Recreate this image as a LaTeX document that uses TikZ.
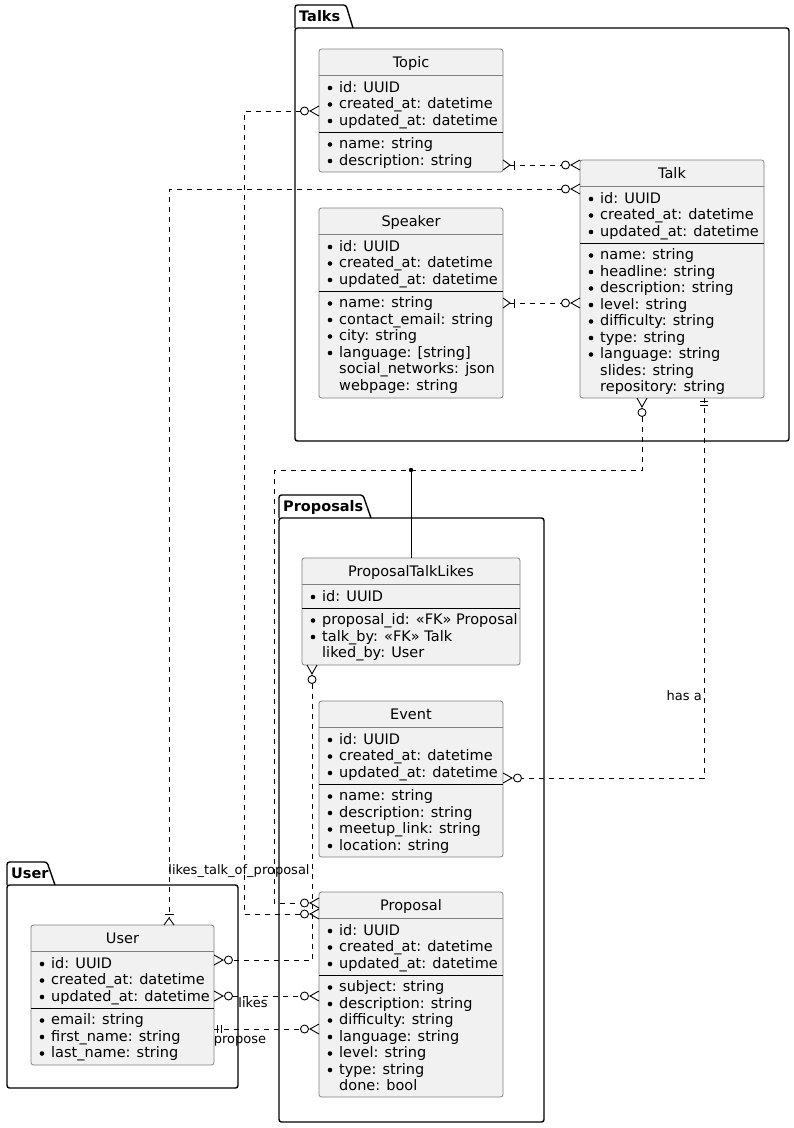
\documentclass[tikz,border=0pt]{standalone}
\usepackage{fontspec}
\setmainfont{DejaVu Sans}
\definecolor{boxfill}{HTML}{F1F1F1}
\definecolor{boxline}{HTML}{808080}
\newcount\fc
\newcommand\fieldB[3]{\global\advance\fc by 1\relax
  \fill (#1+11,#2+1) circle (2.3pt);
  \node[attr] (f\the\fc) at (#1+20,#2+5) {#3};}
\newcommand\fieldP[3]{\global\advance\fc by 1\relax
  \node[attr] (f\the\fc) at (#1+20,#2+5) {#3};}
\newcommand\hsep[3]{\draw[#3] (#1.west |- 0,#2) -- (#1.east |- 0,#2);}
\begin{document}
\begin{tikzpicture}[x=1pt,y=-1pt,
  ent/.style={draw=boxline, fill=boxfill, line width=0.8pt, rounded corners=2.5pt, inner sep=0pt, outer sep=0pt, anchor=north west},
  attr/.style={anchor=base west, inner sep=0pt, font=\fontsize{14.5}{17}\selectfont},
  ttl/.style={anchor=base, inner sep=0pt, font=\fontsize{14.5}{17}\selectfont},
  lbl/.style={inner sep=0pt, font=\fontsize{13}{15}\selectfont},
  pkg/.style={draw=black, line width=1.4pt, rounded corners=2.5pt},
  pkgbody/.style={pkg, inner sep=0pt, outer sep=0pt, anchor=north west},
  pkgttl/.style={anchor=base west, inner sep=0pt, font=\bfseries\fontsize{14.5}{17}\selectfont},
  hdrsep/.style={draw=boxline, line width=0.8pt},
  secsep/.style={draw=black, line width=1pt},
  conn/.style={draw=black, line width=0.9pt, dash pattern=on 5pt off 5pt},
  mk/.style={draw=black, line width=0.9pt, solid},
  zm/.pic={\draw[mk] (0,5) -- (9,0) -- (0,-5); \draw[mk] (14.5,0) circle (4pt);},
  om/.pic={\draw[mk] (0,5) -- (7,0) -- (0,-5); \draw[mk] (11,4.5) -- (11,-4.5);},
  oo/.pic={\draw[mk] (3.5,4) -- (3.5,-4) (7,4) -- (7,-4);},
]
\useasboundingbox (0,0) rectangle (794,1128);
\fill[white] (0,0) rectangle (794,1128);

% ---------- packages ----------
\node[pkgbody, minimum width=494pt, minimum height=413pt] (talkspkg) at (295,28) {};
\draw[pkg] (295,28) -- (295,5) -- (346,5) -- (353,28);
\node[pkgttl] (talkslbl) at (299,21) {Talks};

\node[pkgbody, minimum width=265pt, minimum height=604pt] (proppkg) at (279,518) {};
\draw[pkg] (279,518) -- (279,495) -- (363,495) -- (371,518);
\node[pkgttl] (proplbl) at (283,511) {Proposals};

\node[pkgbody, minimum width=231pt, minimum height=203pt] (userpkg) at (7,885) {};
\draw[pkg] (7,885) -- (7,862) -- (47,862) -- (55,885);
\node[pkgttl] (userlbl) at (11,878) {User};

% ---------- entity boxes (shapes first, for anchors) ----------
\node[ent, minimum width=184pt, minimum height=123pt] (topic) at (319,49) {};
\node[ent, minimum width=184pt, minimum height=238pt] (talk) at (580,160) {};
\node[ent, minimum width=184pt, minimum height=190pt] (speaker) at (319,208) {};
\node[ent, minimum width=218pt, minimum height=107pt] (ptl) at (302,558) {};
\node[ent, minimum width=184pt, minimum height=156pt] (event) at (319,701) {};
\node[ent, minimum width=184pt, minimum height=205pt] (proposal) at (319,892) {};
\node[ent, minimum width=183pt, minimum height=140pt] (user) at (31,925) {};

% ---------- connectors ----------
\draw[conn, shorten <=18.5pt, shorten >=18.5pt] (topic.west |- 0,111) -- ++(-75,0) |- (proposal.west |- 0,914);
\draw[conn, shorten <=7pt, shorten >=18.5pt] (topic.east |- 0,165) -- (talk.west |- 0,165);
\draw[conn, shorten <=18.5pt, shorten >=7pt] (talk.west |- 0,189) -| (169,0 |- user.north);
\draw[conn, shorten <=7pt, shorten >=18.5pt] (speaker.east |- 0,303) -- (talk.west |- 0,303);
\coordinate (assoc) at (ptl.north |- 0,470);
\draw[conn, shorten <=18.5pt, shorten >=18.5pt] (642,0 |- talk.south) |- (274,0 |- assoc) |- (proposal.west |- 0,903);
\draw[line width=0.9pt] (assoc) -- (ptl.north);
\fill (assoc) circle (2.2pt);
\draw[conn, shorten >=18.5pt] (704,0 |- talk.south) |- (event.east |- 0,778);
\draw[conn, shorten <=18.5pt, shorten >=18.5pt] (312,0 |- ptl.south) |- (user.east |- 0,960);
\draw[conn, shorten <=18.5pt, shorten >=18.5pt] (user.east |- 0,996) -- (proposal.west |- 0,996);
\draw[conn, shorten >=18.5pt] (user.east |- 0,1029) -- (proposal.west |- 0,1029);

% ---------- end markers ----------
\pic[rotate=180] at (topic.west |- 0,111) {zm};
\pic[rotate=180] at (proposal.west |- 0,914) {zm};
\pic at (topic.east |- 0,165) {om};
\pic[rotate=180] at (talk.west |- 0,165) {zm};
\pic[rotate=180] at (talk.west |- 0,189) {zm};
\pic[rotate=90] at (169,0 |- user.north) {om};
\pic at (speaker.east |- 0,303) {om};
\pic[rotate=180] at (talk.west |- 0,303) {zm};
\pic[rotate=-90] at (642,0 |- talk.south) {zm};
\pic[rotate=180] at (proposal.west |- 0,903) {zm};
\pic[rotate=-90] at (704,0 |- talk.south) {oo};
\pic at (event.east |- 0,778) {zm};
\pic[rotate=-90] at (312,0 |- ptl.south) {zm};
\pic at (user.east |- 0,960) {zm};
\pic at (user.east |- 0,996) {zm};
\pic[rotate=180] at (proposal.west |- 0,996) {zm};
\pic at (user.east |- 0,1029) {oo};
\pic[rotate=180] at (proposal.west |- 0,1029) {zm};

% ---------- Topic ----------
\node[ttl] (topicT) at (topic.north |- 0,67) {Topic};
\hsep{topic}{75}{hdrsep}
\fieldB{319}{87}{id: UUID}
\fieldB{319}{103.5}{created\_at: datetime}
\fieldB{319}{120}{updated\_at: datetime}
\hsep{topic}{132}{secsep}
\fieldB{319}{143.5}{name: string}
\fieldB{319}{160}{description: string}

% ---------- Talk ----------
\node[ttl] (talkT) at (talk.north |- 0,178) {Talk};
\hsep{talk}{186}{hdrsep}
\fieldB{580}{198}{id: UUID}
\fieldB{580}{214.5}{created\_at: datetime}
\fieldB{580}{231}{updated\_at: datetime}
\hsep{talk}{243}{secsep}
\fieldB{580}{254.5}{name: string}
\fieldB{580}{271}{headline: string}
\fieldB{580}{287.5}{description: string}
\fieldB{580}{304}{level: string}
\fieldB{580}{320.5}{difficulty: string}
\fieldB{580}{337}{type: string}
\fieldB{580}{353.5}{language: string}
\fieldP{580}{370}{slides: string}
\fieldP{580}{386.5}{repository: string}

% ---------- Speaker ----------
\node[ttl] (speakerT) at (speaker.north |- 0,226) {Speaker};
\hsep{speaker}{234}{hdrsep}
\fieldB{319}{246}{id: UUID}
\fieldB{319}{262.5}{created\_at: datetime}
\fieldB{319}{279}{updated\_at: datetime}
\hsep{speaker}{291}{secsep}
\fieldB{319}{302.5}{name: string}
\fieldB{319}{319}{contact\_email: string}
\fieldB{319}{335.5}{city: string}
\fieldB{319}{352}{language: [string]}
\fieldP{319}{368.5}{social\_networks: json}
\fieldP{319}{385}{webpage: string}

% ---------- ProposalTalkLikes ----------
\node[ttl] (ptlT) at (ptl.north |- 0,576) {ProposalTalkLikes};
\hsep{ptl}{584}{hdrsep}
\fieldB{302}{596}{id: UUID}
\hsep{ptl}{608}{secsep}
\fieldB{302}{619.5}{proposal\_id: «FK» Proposal}
\fieldB{302}{636}{talk\_by: «FK» Talk}
\fieldP{302}{652.5}{liked\_by: User}

% ---------- Event ----------
\node[ttl] (eventT) at (event.north |- 0,719) {Event};
\hsep{event}{727}{hdrsep}
\fieldB{319}{739}{id: UUID}
\fieldB{319}{755.5}{created\_at: datetime}
\fieldB{319}{772}{updated\_at: datetime}
\hsep{event}{784}{secsep}
\fieldB{319}{795.5}{name: string}
\fieldB{319}{812}{description: string}
\fieldB{319}{828.5}{meetup\_link: string}
\fieldB{319}{845}{location: string}

% ---------- Proposal ----------
\node[ttl] (proposalT) at (proposal.north |- 0,910) {Proposal};
\hsep{proposal}{918}{hdrsep}
\fieldB{319}{930}{id: UUID}
\fieldB{319}{946.5}{created\_at: datetime}
\fieldB{319}{963}{updated\_at: datetime}
\hsep{proposal}{975}{secsep}
\fieldB{319}{986.5}{subject: string}
\fieldB{319}{1003}{description: string}
\fieldB{319}{1019.5}{difficulty: string}
\fieldB{319}{1036}{language: string}
\fieldB{319}{1052.5}{level: string}
\fieldB{319}{1069}{type: string}
\fieldP{319}{1085.5}{done: bool}

% ---------- User ----------
\node[ttl] (userT) at (user.north |- 0,943) {User};
\hsep{user}{951}{hdrsep}
\fieldB{31}{963}{id: UUID}
\fieldB{31}{979.5}{created\_at: datetime}
\fieldB{31}{996}{updated\_at: datetime}
\hsep{user}{1008}{secsep}
\fieldB{31}{1019.5}{email: string}
\fieldB{31}{1036}{first\_name: string}
\fieldB{31}{1052.5}{last\_name: string}

% ---------- labels ----------
\node[lbl, anchor=base] (lblLikesTalk) at (239,874.5) {likes\_talk\_of\_proposal};
\node[lbl, anchor=base east] (lblHasA) at (702,700.5) {has a};
\node[lbl, anchor=base] (lblLikes) at (253,1007.5) {likes};
\node[lbl, anchor=base] (lblPropose) at (240,1043.5) {propose};
\end{tikzpicture}
\end{document}
